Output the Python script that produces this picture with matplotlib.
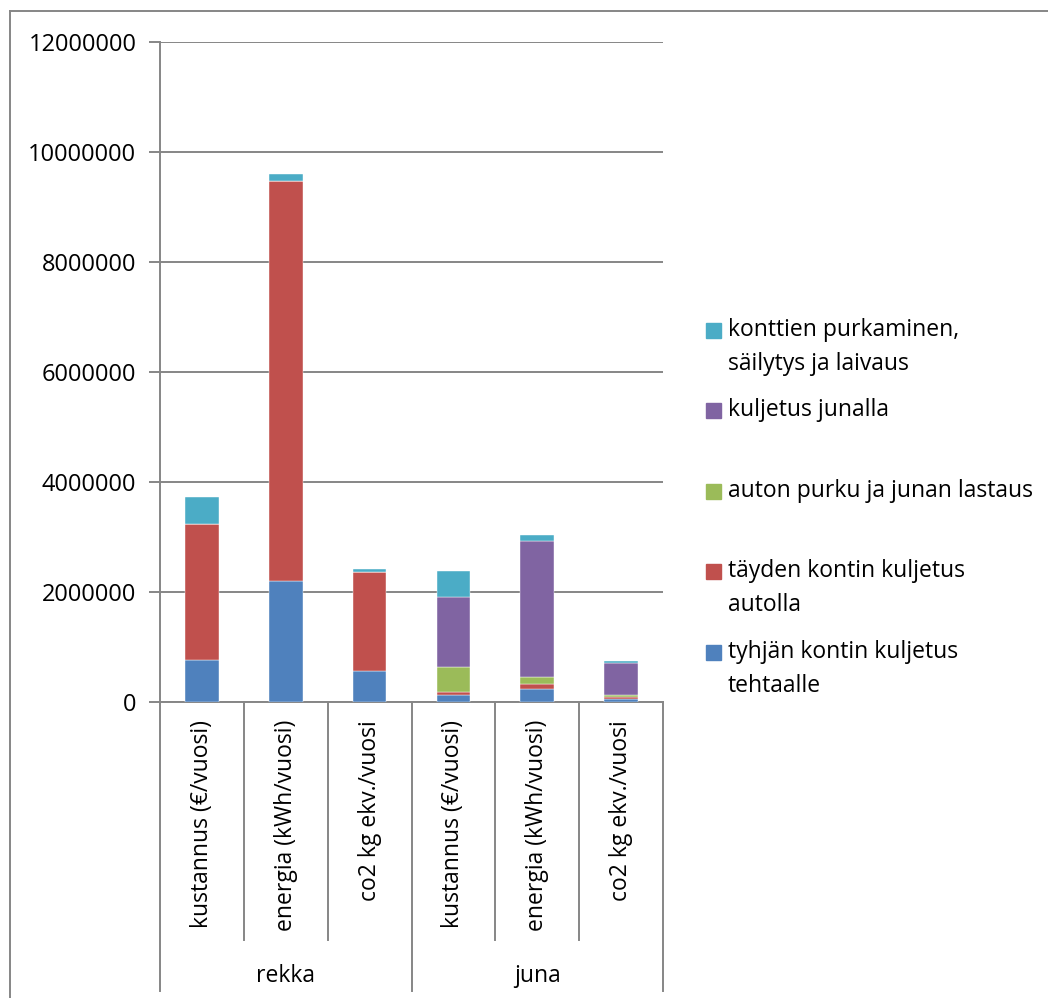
import numpy as np
import matplotlib
matplotlib.use('Agg')
import matplotlib.pyplot as plt
from matplotlib.patches import Rectangle
from matplotlib.lines import Line2D

plt.rcParams['font.family'] = ['Open Sans', 'DejaVu Sans']

categories = ['kustannus (€/vuosi)', 'energia (kWh/vuosi)', 'co2 kg ekv./vuosi',
              'kustannus (€/vuosi)', 'energia (kWh/vuosi)', 'co2 kg ekv./vuosi']
groups = ['rekka', 'juna']

tyhja = [760000, 2200000, 560000, 120000, 230000, 55000]
tayden = [2480000, 7270000, 1810000, 60000, 100000, 35000]
purku = [0, 0, 0, 460000, 120000, 40000]
juna = [0, 0, 0, 1270000, 2470000, 580000]
purkaminen = [490000, 130000, 40000, 480000, 120000, 40000]

series = [
    ('tyhjän kontin kuljetus\ntehtaalle', tyhja, '#4F81BD'),
    ('täyden kontin kuljetus\nautolla', tayden, '#C0504D'),
    ('auton purku ja junan lastaus', purku, '#9BBB59'),
    ('kuljetus junalla', juna, '#8064A2'),
    ('konttien purkaminen,\nsäilytys ja laivaus', purkaminen, '#4BACC6'),
]

W, H = 1048, 998
fig = plt.figure(figsize=(W / 100, H / 100), dpi=100)
ax = fig.add_axes([160 / W, 1 - 702 / H, (663 - 160) / W, 660 / H])

grey = '#868686'
x = np.arange(len(categories))
bottom = np.zeros(len(categories))
for name, vals, col in series:
    vals = np.array(vals, dtype=float)
    ax.bar(x, vals, 0.4, bottom=bottom, color=col, edgecolor='white',
           linewidth=0.3, zorder=3)
    bottom += vals

ax.set_xlim(-0.5, len(categories) - 0.5)
ax.set_ylim(0, 12000000)
ax.set_yticks(np.arange(0, 12000001, 2000000))
ax.yaxis.set_major_formatter(matplotlib.ticker.FuncFormatter(lambda v, p: '%d' % v))
ax.grid(axis='y', color=grey, linewidth=1.4, zorder=0)
ax.tick_params(axis='y', length=8, width=1.4, color=grey, labelsize=17, pad=9)
ax.set_xticks([])
for s in ['top', 'right']:
    ax.spines[s].set_visible(False)
for s in ['left', 'bottom']:
    ax.spines[s].set_color(grey)
    ax.spines[s].set_linewidth(1.4)

# category axis: labels and separators
tr = ax.get_xaxis_transform()
for i, c in enumerate(categories):
    ax.text(i, -0.027, c, rotation=90, ha='center', va='top', fontsize=16.5,
            transform=tr)
for b in np.arange(-0.5, len(categories), 1):
    low = -0.438 if b in (-0.5, 2.5, 5.5) else -0.361
    ax.add_line(Line2D([b, b], [0, low], transform=tr, color=grey,
                       linewidth=1.4, clip_on=False))
for j, g in enumerate(groups):
    ax.text(3 * j + 1, -0.415, g, ha='center', va='center', fontsize=16.5,
            transform=tr)

# legend
leg_y = [653, 572, 492, 411, 331]
for (name, vals, col), yy in zip(series, leg_y):
    fig.patches.append(Rectangle((706 / W, 1 - (yy + 7) / H), 15 / W, 15 / H,
                                 transform=fig.transFigure, color=col))
    fig.text(728 / W, 1 - (yy - 13) / H, name, ha='left', va='top',
             fontsize=16.5, linespacing=1.55)

# outer chart border
fig.add_artist(Line2D([10 / W, 1], [1 - 11 / H, 1 - 11 / H], color=grey, linewidth=1.4))
fig.add_artist(Line2D([10 / W, 10 / W], [0, 1 - 11 / H], color=grey, linewidth=1.4))

fig.savefig('out.png', dpi=100)
print('done')
